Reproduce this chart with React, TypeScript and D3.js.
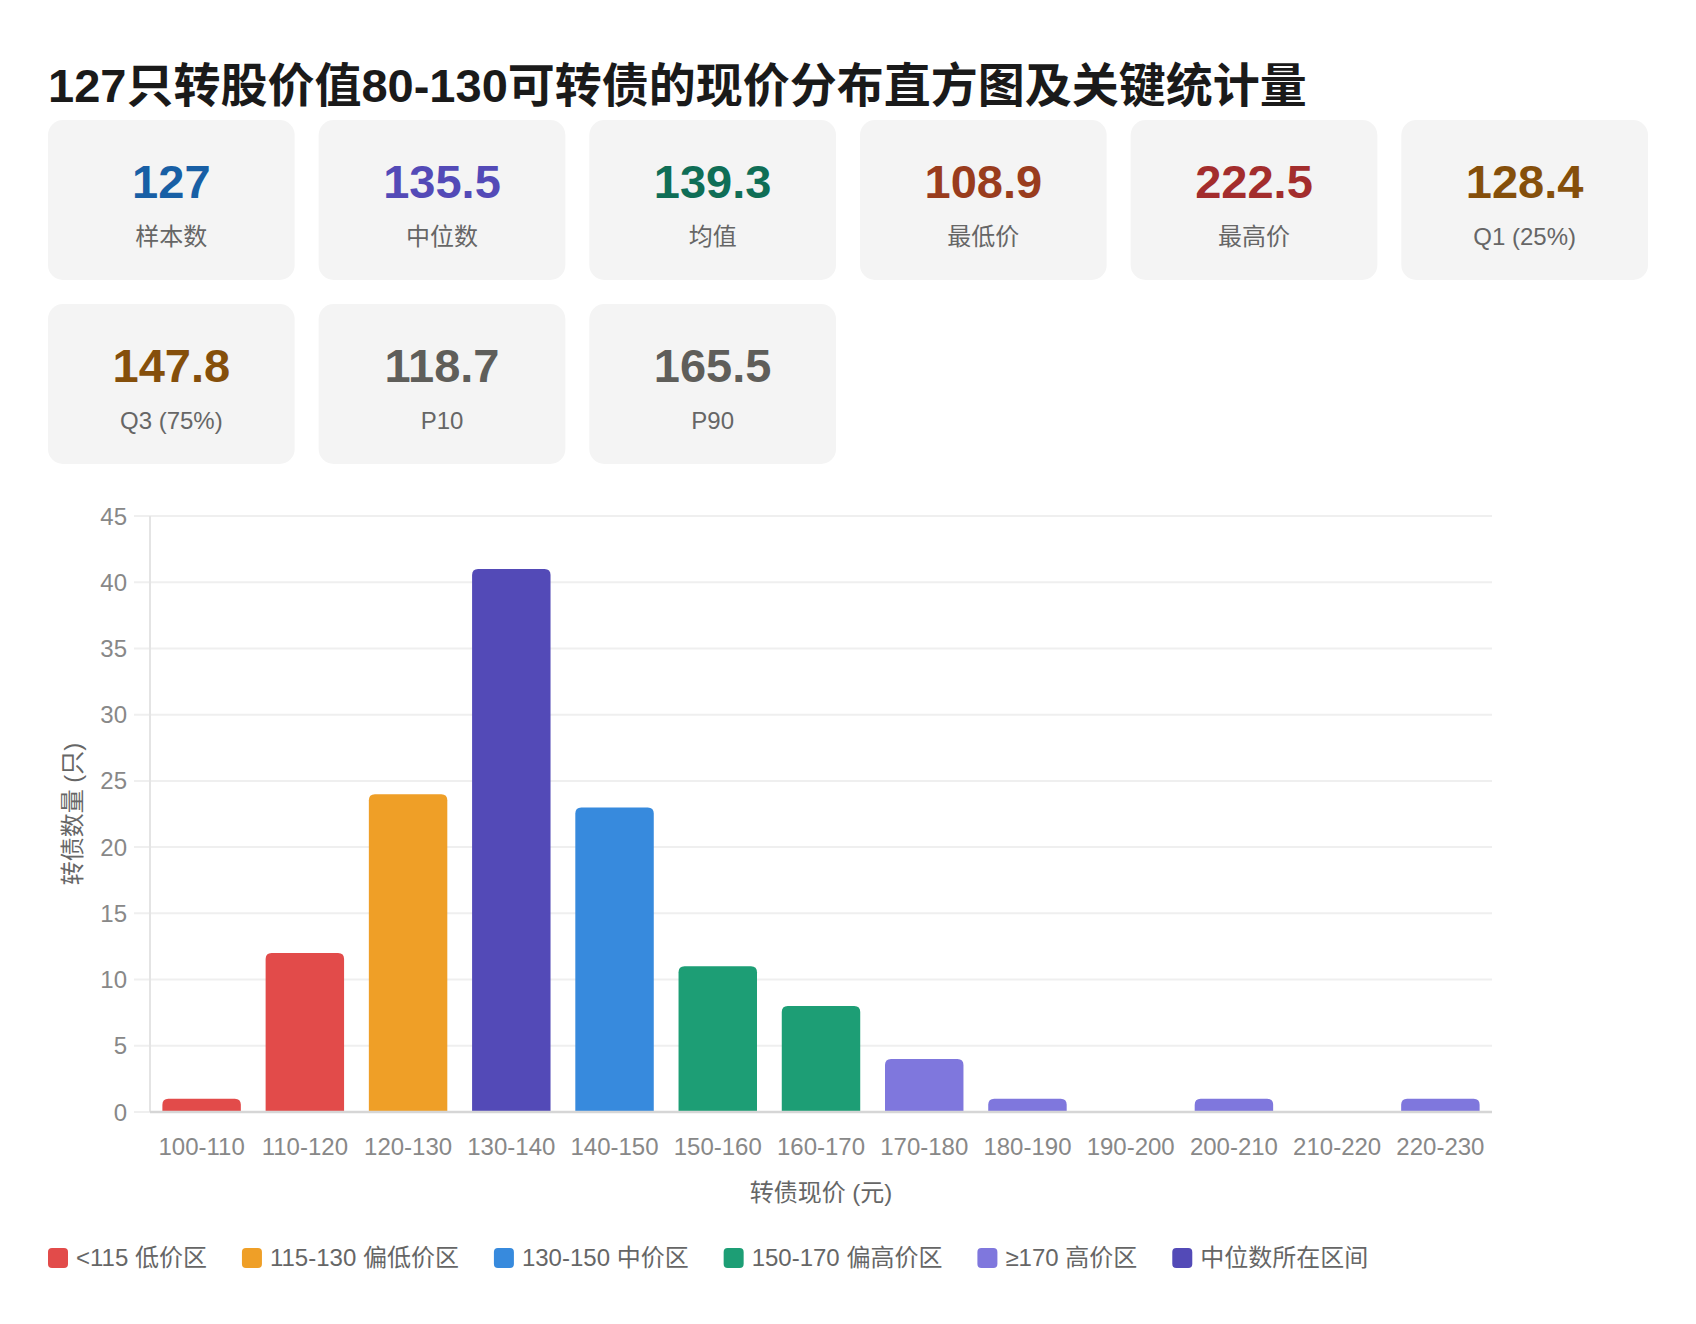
import React from 'react';
import * as d3 from 'd3';

const W = 1696;
const H = 1324;
const FONT = '"Liberation Sans", "Noto Sans CJK SC", sans-serif';

const title = '127只转股价值80-130可转债的现价分布直方图及关键统计量';

// stat cards
const statValues = ['127', '135.5', '139.3', '108.9', '222.5', '128.4', '147.8', '118.7', '165.5'];
const statLabels = ['样本数', '中位数', '均值', '最低价', '最高价', 'Q1 (25%)', 'Q3 (75%)', 'P10', 'P90'];
const statColors = ['#185FA5', '#534AB7', '#0F6E56', '#993C1D', '#A32D2D', '#854F0B', '#854F0B', '#5F5E5A', '#5F5E5A'];

// histogram
const bins = ['100-110', '110-120', '120-130', '130-140', '140-150', '150-160', '160-170',
  '170-180', '180-190', '190-200', '200-210', '210-220', '220-230'];
const counts = [1, 12, 24, 41, 23, 11, 8, 4, 1, 0, 1, 0, 1];
const binGroup = ['low', 'low', 'midLow', 'median', 'mid', 'high', 'high', 'top', 'top', 'top', 'top', 'top', 'top'];
const yTicks = [0, 5, 10, 15, 20, 25, 30, 35, 40, 45];

// legend
const legendKeys = ['low', 'midLow', 'mid', 'high', 'top', 'median'];
const legendLabels = ['<115 低价区', '115-130 偏低价区', '130-150 中价区', '150-170 偏高价区', '≥170 高价区', '中位数所在区间'];
const groupColors: Record<string, string> = {
  low: '#E24B4A',
  midLow: '#EF9F27',
  mid: '#378ADD',
  high: '#1D9E75',
  top: '#7F77DD',
  median: '#534AB7',
};

let measureCtx: CanvasRenderingContext2D | null = null;
function textWidth(s: string, font: string) {
  if (!measureCtx) measureCtx = document.createElement('canvas').getContext('2d');
  if (!measureCtx) return s.length * 14;
  measureCtx.font = font;
  return measureCtx.measureText(s).width;
}

// bar with rounded top corners
function barPath(x: number, y: number, w: number, h: number, r: number) {
  if (h <= 0) return '';
  const rr = Math.min(r, h, w / 2);
  return `M${x},${y + h}V${y + rr}Q${x},${y} ${x + rr},${y}H${x + w - rr}Q${x + w},${y} ${x + w},${y + rr}V${y + h}Z`;
}

export default function App() {
  const plot = { left: 150, right: 1492, top: 516, bottom: 1112 };

  const x = d3.scaleBand<string>()
    .domain(bins)
    .range([plot.left, plot.right])
    .paddingInner(0.24)
    .paddingOuter(0.12);

  const y = d3.scaleLinear()
    .domain([0, 45])
    .range([plot.bottom, plot.top]);

  // card grid
  const cardGap = 24;
  const cardW = (1600 - cardGap * 5) / 6;
  const cardH = 160;

  // legend layout
  const legendFont = `24px ${FONT}`;
  let lx = 48;
  const legendItems = legendKeys.map((k, i) => {
    const item = { key: k, label: legendLabels[i], x: lx };
    lx += 20 + 8 + textWidth(legendLabels[i], legendFont) + 35;
    return item;
  });

  return (
    <div style={{ position: 'absolute', left: 0, top: 0, background: '#fff' }}>
      <svg width={W} height={H} style={{ display: 'block', fontFamily: FONT }}>
        <rect width={W} height={H} fill="#fff" />

        {/* Title */}
        <text x={48} y={102} fontSize={47} fontWeight={700} fill="#1a1a1a">{title}</text>

        {/* Stat cards */}
        {statValues.map((v, i) => {
          const col = i % 6;
          const row = Math.floor(i / 6);
          const cx = 48 + col * (cardW + cardGap);
          const cy = 120 + row * (cardH + cardGap);
          return (
            <g key={i}>
              <rect x={cx} y={cy} width={cardW} height={cardH} rx={15} fill="#f4f4f4" />
              <text x={cx + cardW / 2} y={cy + 78} textAnchor="middle" fontSize={47} fontWeight={700} fill={statColors[i]}>
                {v}
              </text>
              <text x={cx + cardW / 2} y={cy + 125} textAnchor="middle" fontSize={24} fill="#666">
                {statLabels[i]}
              </text>
            </g>
          );
        })}

        {/* Grid lines */}
        {yTicks.map(t => (
          <line key={t} x1={plot.left - 16} x2={plot.right} y1={y(t)} y2={y(t)}
            stroke="#efefef" strokeWidth={2} />
        ))}
        <line x1={plot.left} x2={plot.left} y1={plot.top} y2={plot.bottom} stroke="#e4e4e4" strokeWidth={2} />

        {/* Bars */}
        {bins.map((b, i) => (
          <path key={b}
            d={barPath(x(b)!, y(counts[i]), x.bandwidth(), y(0) - y(counts[i]), 6)}
            fill={groupColors[binGroup[i]]} />
        ))}

        {/* X axis baseline */}
        <line x1={plot.left} x2={plot.right} y1={y(0)} y2={y(0)} stroke="#d6d6d6" strokeWidth={2.5} />

        {/* Y tick labels */}
        {yTicks.map(t => (
          <text key={t} x={127} y={y(t) + 8.5} textAnchor="end" fontSize={24} fill="#888">{t}</text>
        ))}

        {/* X tick labels */}
        {bins.map(b => (
          <text key={b} x={x(b)! + x.bandwidth() / 2} y={1155} textAnchor="middle" fontSize={24} fill="#888">{b}</text>
        ))}

        {/* Axis titles */}
        <text x={(plot.left + plot.right) / 2} y={1201} textAnchor="middle" fontSize={24} fill="#666">转债现价 (元)</text>
        <text x={81} y={(plot.top + plot.bottom) / 2} textAnchor="middle" fontSize={24} fill="#666"
          transform={`rotate(-90, 81, ${(plot.top + plot.bottom) / 2})`}>转债数量 (只)</text>

        {/* Legend */}
        {legendItems.map(it => (
          <g key={it.key}>
            <rect x={it.x} y={1248} width={20} height={20} rx={4} fill={groupColors[it.key]} />
            <text x={it.x + 28} y={1266} fontSize={24} fill="#666">{it.label}</text>
          </g>
        ))}
      </svg>
    </div>
  );
}
